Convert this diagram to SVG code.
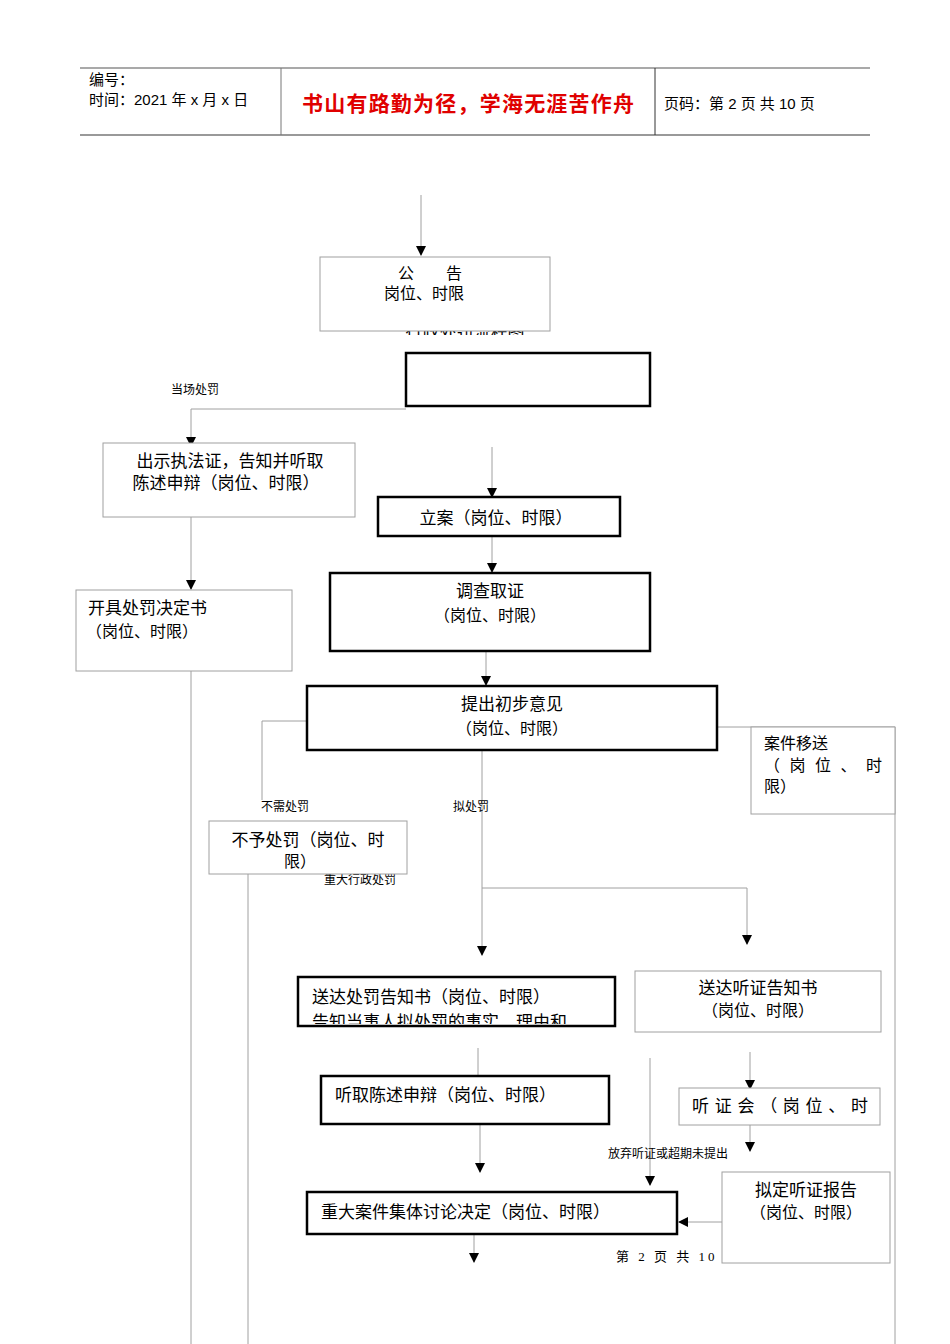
<svg xmlns="http://www.w3.org/2000/svg" width="950" height="1344" viewBox="0 0 950 1344">
<style>
.t{font-family:"Liberation Serif","Noto Sans CJK SC",serif;fill:#000}
.s{font-size:12px}.m{font-size:17px}.n{font-size:16px}
.thin{fill:#fff;stroke:#a0a0a0;stroke-width:1}
.thick{fill:#fff;stroke:#000;stroke-width:2.5}
.c line,.c polyline{stroke:#a0a0a0;stroke-width:1;fill:none}
.h{font-family:"Liberation Sans","Noto Sans CJK SC",sans-serif}
</style>
<defs>
<marker id="a" markerWidth="10" markerHeight="10" refX="9" refY="5" orient="auto" markerUnits="userSpaceOnUse"><path d="M0,0 L10,5 L0,10 z" fill="#000"/></marker>
<clipPath id="c1"><rect x="0" y="1010" width="950" height="14"/></clipPath>
<clipPath id="c2"><rect x="0" y="874" width="950" height="20"/></clipPath>
<clipPath id="c3"><rect x="0" y="331" width="950" height="4"/></clipPath>
</defs>
<g id="header">
<line x1="80" y1="68" x2="870" y2="68" stroke="#555" stroke-width="1.2"/>
<line x1="80" y1="135" x2="870" y2="135" stroke="#777" stroke-width="1.5"/>
<line x1="281" y1="68" x2="281" y2="135" stroke="#777"/>
<line x1="655" y1="68" x2="655" y2="135" stroke="#333"/>
<text class="h" x="89" y="85" font-size="15">编号：</text>
<text class="h" x="89" y="105" font-size="15">时间：2021 年 x 月 x 日</text>
<text class="h" x="468" y="111" font-size="21" text-anchor="middle" font-weight="bold" textLength="332" style="fill:#e00000">书山有路勤为径，学海无涯苦作舟</text>
<text class="h" x="664" y="109" font-size="15">页码：第 2 页  共 10 页</text>
</g>
<g class="c">
<line x1="421" y1="195" x2="421" y2="255" marker-end="url(#a)"/>
<polyline points="406,409 191,409 191,446" marker-end="url(#a)"/>
<line x1="492" y1="447" x2="492" y2="497" marker-end="url(#a)"/>
<line x1="492" y1="536" x2="492" y2="572" marker-end="url(#a)"/>
<line x1="191" y1="517" x2="191" y2="589" marker-end="url(#a)"/>
<line x1="191" y1="671" x2="191" y2="1344"/>
<line x1="486" y1="651" x2="486" y2="685" marker-end="url(#a)"/>
<polyline points="307,721 262,721 262,800"/>
<line x1="248" y1="874" x2="248" y2="1344"/>
<polyline points="717,727 895,727 895,1344"/>
<line x1="482" y1="750" x2="482" y2="955" marker-end="url(#a)"/>
<polyline points="482,888 747,888 747,944" marker-end="url(#a)"/>
<line x1="478" y1="1048" x2="478" y2="1076"/>
<line x1="480" y1="1124" x2="480" y2="1172" marker-end="url(#a)"/>
<line x1="650" y1="1058" x2="650" y2="1185" marker-end="url(#a)"/>
<line x1="750" y1="1052" x2="750" y2="1089" marker-end="url(#a)"/>
<line x1="750" y1="1125" x2="750" y2="1151" marker-end="url(#a)"/>
<line x1="722" y1="1222" x2="679" y2="1222" marker-end="url(#a)"/>
<line x1="474" y1="1234" x2="474" y2="1262" marker-end="url(#a)"/>
</g>
<g id="labels">
<text class="t s" x="195" y="394" text-anchor="middle">当场处罚</text>
<text class="t s" x="285" y="811" text-anchor="middle">不需处罚</text>
<text class="t s" x="471" y="811" text-anchor="middle">拟处罚</text>
<text class="t s" x="668" y="1158" text-anchor="middle">放弃听证或超期未提出</text>
<text class="t s" x="360" y="884" text-anchor="middle" clip-path="url(#c2)">重大行政处罚</text>
<text class="t" x="616" y="1261" font-size="13" letter-spacing="3">第 2 页 共 10 页</text>
<text class="t m" x="465" y="338" text-anchor="middle" clip-path="url(#c3)">行政处罚流程图</text>
</g>
<g id="n1"><rect class="thin" x="320" y="257" width="230" height="74"/>
<text class="t n" x="430" y="279" text-anchor="middle">公　　告</text><text class="t n" x="424" y="299" text-anchor="middle">岗位、时限</text></g>
<g id="n2"><rect class="thick" x="406" y="353" width="244" height="53"/></g>
<g id="n3"><rect class="thin" x="103" y="443" width="252" height="74"/>
<text class="t m" x="230" y="467" text-anchor="middle">出示执法证，告知并听取</text><text class="t m" x="226" y="489" text-anchor="middle">陈述申辩（岗位、时限）</text></g>
<g id="n4"><rect class="thick" x="378" y="497" width="242" height="39"/><text class="t m" x="496" y="524" text-anchor="middle">立案（岗位、时限）</text></g>
<g id="n5"><rect class="thick" x="330" y="573" width="320" height="78"/><text class="t m" x="490" y="597" text-anchor="middle">调查取证</text><text class="t n" x="490" y="621" text-anchor="middle">（岗位、时限）</text></g>
<g id="n6"><rect class="thin" x="76" y="590" width="216" height="81"/><text class="t m" x="88" y="614">开具处罚决定书</text><text class="t n" x="86" y="637">（岗位、时限）</text></g>
<g id="n7"><rect class="thick" x="307" y="686" width="410" height="64"/><text class="t m" x="512" y="710" text-anchor="middle">提出初步意见</text><text class="t n" x="512" y="734" text-anchor="middle">（岗位、时限）</text></g>
<g id="n8"><rect class="thin" x="751" y="727" width="144" height="87"/><text class="t n" x="764" y="749">案件移送</text><text class="t n" x="764" y="771" textLength="118">（ 岗 位 、 时</text><text class="t n" x="764" y="792">限）</text></g>
<g id="n9"><rect class="thin" x="209" y="821" width="198" height="53"/><text class="t m" x="308" y="846" text-anchor="middle">不予处罚（岗位、时</text><text class="t n" x="300" y="867" text-anchor="middle">限）</text></g>
<g id="n10"><rect class="thick" x="298" y="977" width="317" height="49"/><text class="t m" x="312" y="1003">送达处罚告知书（岗位、时限）</text><text class="t m" x="312" y="1028" clip-path="url(#c1)">告知当事人拟处罚的事实、理由和</text></g>
<g id="n11"><rect class="thin" x="635" y="971" width="246" height="61"/><text class="t m" x="758" y="994" text-anchor="middle">送达听证告知书</text><text class="t n" x="758" y="1016" text-anchor="middle">（岗位、时限）</text></g>
<g id="n12"><rect class="thick" x="321" y="1076" width="288" height="48"/><text class="t m" x="335" y="1101">听取陈述申辩（岗位、时限）</text></g>
<g id="n13"><rect class="thin" x="679" y="1088" width="201" height="37"/><text class="t m" x="692" y="1112" textLength="176">听 证 会 （ 岗 位 、 时</text></g>
<g id="n14"><rect class="thick" x="307" y="1192" width="370" height="42"/><text class="t m" x="321" y="1218">重大案件集体讨论决定（岗位、时限）</text></g>
<g id="n15"><rect class="thin" x="722" y="1172" width="168" height="91"/><text class="t m" x="806" y="1196" text-anchor="middle">拟定听证报告</text><text class="t n" x="806" y="1218" text-anchor="middle">（岗位、时限）</text></g>
</svg>
